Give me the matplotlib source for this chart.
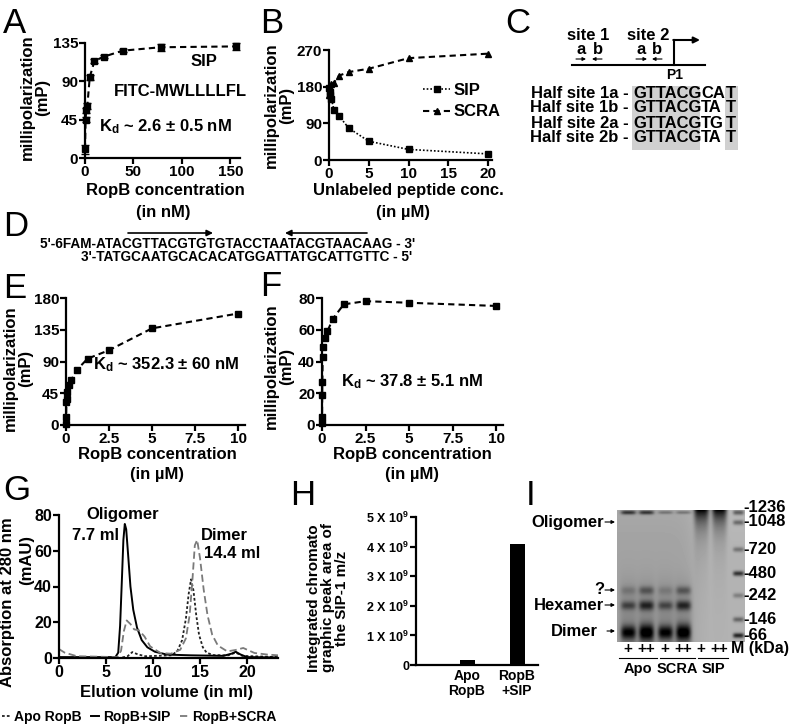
import numpy as np
import matplotlib
matplotlib.use("Agg")
import matplotlib.pyplot as plt

plt.rcParams['font.family'] = ['Liberation Sans', 'DejaVu Sans']
plt.rcParams['font.weight'] = 'bold'
plt.rcParams['axes.labelweight'] = 'bold'
plt.rcParams['axes.linewidth'] = 1.6
plt.rcParams['mathtext.fontset'] = 'custom'
plt.rcParams['mathtext.rm'] = 'Liberation Sans:bold'
plt.rcParams['mathtext.bf'] = 'Liberation Sans:bold'
plt.rcParams['mathtext.default'] = 'bf'

# ---- data ----
# A: FITC-SIP binding, RopB in nM
a_conc = [0, 0.6, 1.2, 2.4, 4.9, 9.8, 19.5, 39, 78, 156]
a_mp = [10, 45, 56, 61, 95, 114, 119, 126, 130, 131]
a_err = [5, 3, 3, 3, 3, 2, 2, 2, 4, 4]

# B: competition with unlabeled peptide (uM)
b_conc = [0, 0.08, 0.16, 0.31, 0.63, 1.25, 2.5, 5, 10, 20]
b_sip = [176, 168, 160, 150, 122, 108, 78, 46, 26, 15]
b_scra = [160, 168, 176, 186, 190, 207, 216, 224, 250, 261]

# E / F: DNA binding, RopB in uM
e_conc = [0, 0.01, 0.02, 0.04, 0.08, 0.16, 0.31, 0.63, 1.25, 2.5, 5, 10]
e_mp = [2, 12, 32, 37, 47, 57, 64, 78, 94, 106, 137, 158]
f_conc = [0, 0.005, 0.01, 0.02, 0.04, 0.08, 0.16, 0.31, 0.63, 1.25, 2.5, 5, 10]
f_mp = [1, 5, 19, 27, 43, 49, 55, 59, 67, 76, 78, 77, 75]

# G: size exclusion traces (ml vs mAU)
g_apo_x = [0, 6.5, 7.3, 7.8, 8.4, 9.2, 12.0, 12.6, 13.1, 13.5, 13.8, 14.05, 14.3, 14.6, 14.9, 15.3, 15.7, 16.4, 18.0, 18.8, 19.5, 23.3]
g_apo_y = [0, 0, 1, 3.3, 2, 1, 1.5, 4, 10, 22, 36, 44, 38, 24, 13, 6, 3, 1.6, 1.5, 3, 1.2, 0.5]
g_sip_x = [0, 6.0, 6.3, 6.5, 6.7, 6.85, 7.0, 7.15, 7.35, 7.6, 7.9, 8.3, 8.8, 9.4, 10.2, 11.5, 14, 17.5, 18.4, 18.8, 19.3, 20.0, 23.3]
g_sip_y = [0.5, 0.5, 3, 18, 45, 66, 75, 72, 58, 40, 27, 17, 10, 6, 3.5, 1.9, 1.5, 1.2, 2.5, 3.5, 2, 0.5, 0.3]
g_scra_x = [0, 0.6, 1.9, 6.2, 6.6, 6.9, 7.2, 7.6, 8.0, 8.5, 9.1, 9.7, 10.8, 11.9, 12.9, 13.5, 13.9, 14.2, 14.45, 14.7, 15.0, 15.4, 15.8, 16.3, 16.9, 17.9, 18.8, 19.6, 20.8, 22.2, 23.3]
g_scra_y = [5, 3, 1, 0.5, 4, 15, 21, 19, 16, 15.5, 12, 6.5, 2.8, 2.4, 4.6, 11, 24, 44, 63, 66, 56, 38, 24, 13, 7, 3.7, 4.5, 5.6, 2.8, 1.9, 1.5]

# H: peak area of SIP
h_labels = ['Apo\nRopB', 'RopB\n+SIP']
h_area = [0.17e9, 4.1e9]
h_ticks = [0, 1e9, 2e9, 3e9, 4e9, 5e9]
h_ticklabels = ['0', '1 X 10$^9$', '2 X 10$^9$', '3 X 10$^9$', '4 X 10$^9$', '5 X 10$^9$']

# I: native gel, bands as (lane, row, darkness, spread)
lane_signs = ['+', '++', '+', '++', '+', '++']
gel_groups = ['Apo', 'SCRA', 'SIP']
marker_kda = ['1236', '1048', '720', '480', '242', '146', '66']
marker_rows = [2, 12, 39, 63, 85, 109, 125]
marker_dark = [0.35, 0.3, 0.25, 0.5, 0.2, 0.3, 0.55]
gel_bands = [(0, 2, 0.45, 1.5), (1, 2, 0.45, 1.5), (2, 2, 0.2, 1.2), (3, 2, 0.2, 1.2),
             (0, 80, 0.12, 3), (1, 80, 0.25, 3), (2, 80, 0.1, 3), (3, 80, 0.25, 3),
             (0, 95, 0.3, 3), (1, 95, 0.42, 3.5), (2, 95, 0.28, 3), (3, 95, 0.42, 3.5),
             (0, 122, 0.55, 5), (1, 122, 0.62, 6), (2, 122, 0.55, 5), (3, 122, 0.62, 6)]

seq_top = "5'-6FAM-ATACGTTACGTGTGTACCTAATACGTAACAAG - 3'"
seq_bottom = "3'-TATGCAATGCACACATGGATTATGCATTGTTC - 5'"

W, H = 793, 728
fig = plt.figure(figsize=(W / 100, H / 100), dpi=100)


def box(x0, y0, x1, y1):
    return [x0 / W, 1 - y1 / H, (x1 - x0) / W, (y1 - y0) / H]


def prism(ax, fs=11):
    for s in ['top', 'right']:
        ax.spines[s].set_visible(False)
    ax.tick_params(direction='out', length=4, width=1.6, labelsize=fs, pad=1)
    for t in ax.get_xticklabels() + ax.get_yticklabels():
        t.set_fontweight('bold')


dash = dict(ls=(0, (3, 2)), lw=1.5, color='k')

# A
axA = fig.add_axes(box(85, 43, 240, 158))
axA.errorbar(a_conc, a_mp, yerr=a_err, marker='s', ms=5, mfc='k', mec='k',
             capsize=3, elinewidth=1.2, clip_on=False, **dash)
axA.set_xlim(0, 160)
axA.set_ylim(0, 135)
axA.set_xticks([0, 50, 100, 150])
axA.set_yticks([0, 45, 90, 135])
prism(axA)

# B
axB = fig.add_axes(box(329, 50, 492, 160))
axB.plot(b_conc, b_sip, marker='s', ms=5, color='k', ls=(0, (1, 1.2)), lw=1.2,
         clip_on=False, label='SIP')
axB.plot(b_conc, b_scra, marker='^', ms=5, clip_on=False, label='SCRA', **dash)
axB.set_xlim(0, 20.5)
axB.set_ylim(0, 270)
axB.set_xticks([0, 5, 10, 15, 20])
axB.set_yticks([0, 90, 180, 270])
prism(axB)
axB.legend(loc='center left', bbox_to_anchor=(415 / W, 1 - 101 / H),
           bbox_transform=fig.transFigure, frameon=False, fontsize=12,
           handlelength=1.6, handletextpad=0.2, labelspacing=0.4, borderpad=0)

# E
axE = fig.add_axes(box(66, 298, 245, 425))
axE.plot(e_conc, e_mp, marker='s', ms=5, clip_on=False, **dash)
axE.set_xlim(0, 10.4)
axE.set_ylim(0, 180)
axE.set_xticks([0, 2.5, 5, 7.5, 10])
axE.set_xticklabels(['0', '2.5', '5', '7.5', '10'])
axE.set_yticks([0, 45, 90, 135, 180])
prism(axE)

# F
axF = fig.add_axes(box(322, 298, 503, 425))
axF.plot(f_conc, f_mp, marker='s', ms=5, clip_on=False, **dash)
axF.set_xlim(0, 10.4)
axF.set_ylim(0, 80)
axF.set_xticks([0, 2.5, 5, 7.5, 10])
axF.set_xticklabels(['0', '2.5', '5', '7.5', '10'])
axF.set_yticks([0, 20, 40, 60, 80])
prism(axF)

# G
axG = fig.add_axes(box(59, 515, 278, 658))
axG.plot(g_apo_x, g_apo_y, color='#222222', ls=(0, (1.5, 1.2)), lw=1.3, label='Apo RopB')
axG.plot(g_sip_x, g_sip_y, color='k', lw=1.4, label='RopB+SIP')
axG.plot(g_scra_x, g_scra_y, color='#7a7a7a', ls=(0, (4, 2)), lw=1.3, label='RopB+SCRA')
axG.set_xlim(0, 23.3)
axG.set_ylim(0, 80)
axG.set_xticks([0, 5, 10, 15, 20])
axG.set_yticks([0, 20, 40, 60, 80])
prism(axG, 11.5)
axG.legend(loc='center left', bbox_to_anchor=(2 / W, 1 - 717 / H), bbox_transform=fig.transFigure,
           ncol=3, frameon=False, fontsize=10, handlelength=0.6, handletextpad=0.25,
           columnspacing=0.7, borderpad=0, borderaxespad=0)

# H
axH = fig.add_axes(box(416, 517, 538, 665))
axH.bar([0, 1], h_area, width=0.3, color='k')
axH.set_xlim(-1.02, 1.42)
axH.set_ylim(0, 5e9)
axH.set_yticks(h_ticks)
axH.set_yticklabels(h_ticklabels)
axH.set_xticks([0, 1])
axH.set_xticklabels(h_labels, linespacing=1.1)
prism(axH, 9)
axH.tick_params(axis='x', length=0, pad=3, labelsize=10)

# I gel
axI = fig.add_axes(box(617, 510, 745, 642))
ny, nx = 132, 128
yy, xx = np.mgrid[0:ny, 0:nx]
lane_x = [11, 29, 48, 66, 84, 102, 121]
dark = np.zeros((ny, nx))


def lane_prof(c, w=7.5):
    return np.exp(-((xx - c) / w) ** 4)


for ln, row, amp, sy in gel_bands:
    dark += amp * lane_prof(lane_x[ln]) * np.exp(-0.5 * ((yy - row) / sy) ** 2)
for row, amp in zip(marker_rows, marker_dark):
    dark += amp * lane_prof(lane_x[6], 5.5) * np.exp(-0.5 * ((yy - row) / 1.8) ** 2)
for ln in [4, 5]:
    dark += lane_prof(lane_x[ln]) * (0.6 * np.exp(-yy / 12) + 0.12 * np.exp(-yy / 40))
for ln in [0, 1, 2, 3]:
    dark += 0.1 * lane_prof(lane_x[ln], 9) / (1 + np.exp(-(yy - 75) / 8))
bg = 0.63 + 0.07 / (1 + np.exp(-(xx - 76) / 5)) + 0.03 * np.exp(-yy / 30)
gel = np.clip(bg - dark, 0, 1)
axI.imshow(gel, cmap='gray', vmin=0, vmax=1, aspect='auto', interpolation='bilinear')
axI.axis('off')

# overlay for free text and diagrams
ov = fig.add_axes([0, 0, 1, 1])
ov.set_xlim(0, W)
ov.set_ylim(H, 0)
ov.axis('off')
ov.patch.set_alpha(0)

for lab, x, y in [('A', 3, 7), ('B', 260, 7), ('C', 505, 7), ('D', 3, 210), ('E', 3, 272),
                  ('F', 260, 270), ('G', 3, 474), ('H', 290, 479), ('I', 526, 479)]:
    ov.text(x, y, lab, fontsize=25, fontweight='normal', va='top', ha='left')


# axis labels
def ylab(x, y, s, fs=12):
    ov.text(x, y, s, rotation=90, ha='center', va='center', fontsize=fs, linespacing=1.0)


ylab(35, 97, 'millipolarization\n(mP)')
ylab(279, 105, 'millipolarization\n(mP)')
ylab(18, 368, 'millipolarization\n(mP)')
ylab(279, 366, 'millipolarization\n(mP)')
ylab(8, 602, 'Absorption at 280 nm')
ylab(27, 560, '(mAU)')
ylab(328, 598, 'Integrated chromato\ngraphic peak area of\nthe SIP-1 m/z', 11)

for x, y, s in [(165, 190, 'RopB concentration'), (163, 212, '(in nM)'),
                (408, 190, 'Unlabeled peptide conc.'), (403, 212, '(in µM)'),
                (157, 454, 'RopB concentration'), (157, 474, '(in µM)'),
                (412, 454, 'RopB concentration'), (412, 474, '(in µM)'),
                (167, 693, 'Elution volume (in ml)')]:
    ov.text(x, y, s, ha='center', va='center', fontsize=12)

# in-panel text
ov.text(204, 62, 'SIP', ha='center', va='center', fontsize=12)
ov.text(180, 92, 'FITC-MWLLLLFL', ha='center', va='center', fontsize=12)
ov.text(165, 127, r'K$_d$ ~ 2.6 ± 0.5 nM', ha='center', va='center', fontsize=12)
ov.text(166, 365, r'K$_d$ ~ 352.3 ± 60 nM', ha='center', va='center', fontsize=12)
ov.text(412, 382, r'K$_d$ ~ 37.8 ± 5.1 nM', ha='center', va='center', fontsize=12)
ov.text(123, 515, 'Oligomer', ha='center', va='center', fontsize=12)
ov.text(95, 535, '7.7 ml', ha='center', va='center', fontsize=12)
ov.text(224, 535, 'Dimer', ha='center', va='center', fontsize=12)
ov.text(232, 553, '14.4 ml', ha='center', va='center', fontsize=12)

# C: promoter diagram
ov.text(588, 35, 'site 1', ha='center', va='center', fontsize=12)
ov.text(648, 35, 'site 2', ha='center', va='center', fontsize=12)
for x, s in [(581, 'a'), (598, 'b'), (641, 'a'), (657, 'b')]:
    ov.text(x, 50, s, ha='center', va='center', fontsize=12)
small = dict(arrowstyle='-|>', lw=0.8, color='k', mutation_scale=5, shrinkA=0, shrinkB=0)
for x0, x1 in [(576, 586), (602, 592), (636, 647), (662, 652)]:
    ov.annotate('', xy=(x1, 59), xytext=(x0, 59), arrowprops=small)
ov.plot([572, 705], [65, 65], color='k', lw=1.5)
ov.plot([674, 674], [65, 40], color='k', lw=1.5)
ov.annotate('', xy=(700, 40), xytext=(673.3, 40),
            arrowprops=dict(arrowstyle='-|>', lw=1.5, color='k', mutation_scale=9, shrinkA=0, shrinkB=0))
ov.text(675, 75, 'P1', ha='center', va='center', fontsize=10)
ov.add_patch(plt.Rectangle((632, 86), 68, 64, color='#d0d0d0', lw=0))
ov.add_patch(plt.Rectangle((725, 86), 13, 64, color='#d0d0d0', lw=0))
half_names = ['Half site 1a -', 'Half site 1b -', 'Half site 2a -', 'Half site 2b -']
half_mid = ['CA', 'TA', 'TG', 'TA']
for i, (nm, mid) in enumerate(zip(half_names, half_mid)):
    y = 93 + 15 * i
    ov.text(629, y, nm, ha='right', va='center', fontsize=12)
    ov.text(633, y, 'GTTACG', ha='left', va='center', fontsize=12)
    ov.text(701, y, mid, ha='left', va='center', fontsize=12)
    ov.text(726, y, 'T', ha='left', va='center', fontsize=12)

# D: probe sequence, sized so the top strand spans x 40..417
big = dict(arrowstyle='-|>', lw=1.2, color='k', mutation_scale=9, shrinkA=0, shrinkB=0)
ov.annotate('', xy=(213, 233), xytext=(128, 233), arrowprops=big)
ov.annotate('', xy=(285, 233), xytext=(367, 233), arrowprops=big)
rend = fig.canvas.get_renderer()


def text_w(s, fs):
    t = ov.text(0, 0, s, fontsize=fs)
    w = t.get_window_extent(rend).width
    t.remove()
    return w


seq_fs = 10 * 377 / text_w(seq_top, 10)
ov.text(40, 244, seq_top, ha='left', va='center', fontsize=seq_fs)
x_a = 40 + text_w("5'-6FAM-", seq_fs)
ov.text(x_a - text_w("3'-", seq_fs), 257, seq_bottom, ha='left', va='center', fontsize=seq_fs)

# I: gel labels
tiny = dict(arrowstyle='-|>', lw=0.8, color='k', mutation_scale=5, shrinkA=0, shrinkB=0)
for s, y, x0 in [('Oligomer', 522, 604), ('?', 590, 604), ('Hexamer', 605, 604), ('Dimer', 631, 606)]:
    ov.text(x0 - (0 if s != 'Dimer' else 8), y, s, ha='right', va='center', fontsize=12)
    ov.annotate('', xy=(615, y), xytext=(x0 + 1, y), arrowprops=tiny)
marker_label_y = [507, 522, 549, 573, 595, 619, 635]
for s, y in zip(marker_kda, marker_label_y):
    ov.text(743, y, '-' + s, ha='left', va='center', fontsize=12)
for s, lx in zip(lane_signs, lane_x):
    ov.text(617 + lx, 649, s, ha='center', va='center', fontsize=11)
ov.text(731, 649, 'M (kDa)', ha='left', va='center', fontsize=11.5)
for s, (x0, x1) in zip(gel_groups, [(619, 657), (660, 695), (698, 728)]):
    ov.plot([x0, x1], [658, 658], color='k', lw=0.8)
    ov.text((x0 + x1) / 2, 669, s, ha='center', va='center', fontsize=10.5)

fig.savefig('out.png', dpi=100)
